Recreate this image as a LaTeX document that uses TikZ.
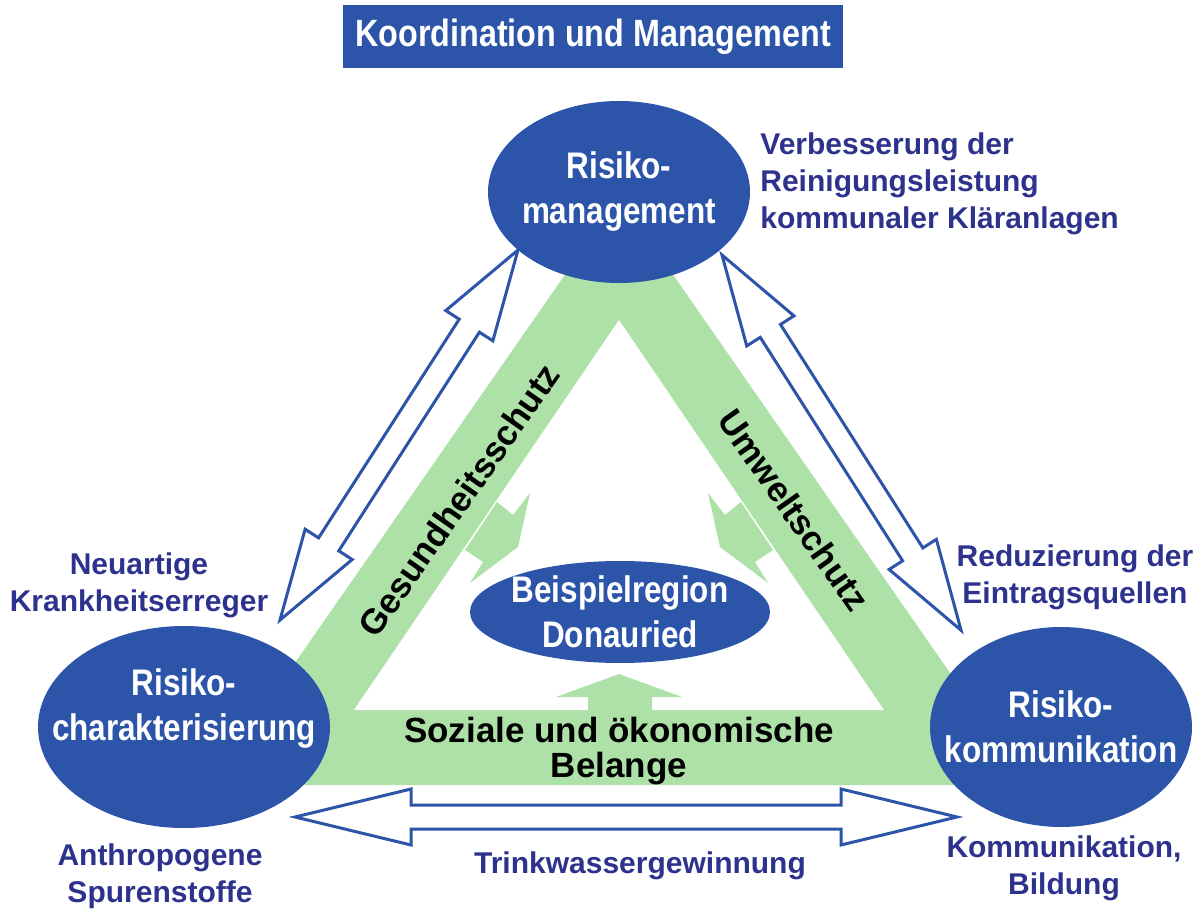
\documentclass[tikz,border=0pt]{standalone}
\usepackage{fontspec}
\setmainfont{Liberation Sans}
\newfontfamily\narrowfont{Liberation Sans}[FakeStretch=0.85]
\usepackage{xcolor}
\usepackage{tikz}
\usetikzlibrary{shapes,positioning,calc,arrows.meta}

\definecolor{riskblue}{RGB}{44,85,169}
\definecolor{labelblue}{RGB}{45,50,140}
\definecolor{bandgreen}{RGB}{174,225,168}

\tikzset{
    riskcircle/.style={ellipse, fill=riskblue, inner sep=0pt},
    riskcaption/.style={text=white, align=center, inner sep=0pt,
        font=\narrowfont\bfseries\fontsize{18.5}{22.5}\selectfont},
    topic/.style={text=labelblue, align=center, inner sep=0pt,
        font=\bfseries\fontsize{15}{18.5}\selectfont},
    bandlabel/.style={align=center, inner sep=0pt,
        font=\bfseries\fontsize{17.5}{17.5}\selectfont},
    hollow/.style={draw=riskblue, fill=white, line width=1.5pt, line join=miter},
    pics/twoway/.style n args={2}{code={
        \draw[hollow] (0,0) -- (#2,-28) -- (#2,-12) -- (#1-#2,-12) -- (#1-#2,-28)
            -- (#1,0) -- (#1-#2,28) -- (#1-#2,12) -- (#2,12) -- (#2,28) -- cycle;
    }}
}

\begin{document}
\begin{tikzpicture}[x=0.5pt, y=-0.5pt]
    \useasboundingbox (0,0) rectangle (1200,914);

    % green triangle with the three inward arrows
    \fill[bandgreen] (619,197) -- (1028,785) -- (210,785) -- cycle;
    \fill[white] (619,320) -- (884,710) -- (354,710) -- cycle;
    \fill[bandgreen] (497,502) -- (513,515) -- (530,493) -- (518,547)
        -- (470,583) -- (483,562) -- (465,550) -- cycle;
    \fill[bandgreen] (741,502) -- (725,515) -- (708,493) -- (720,547)
        -- (768,583) -- (755,562) -- (773,550) -- cycle;
    \fill[bandgreen] (588,711) -- (588,697) -- (556,697) -- (619,674)
        -- (682,697) -- (652,697) -- (652,711) -- cycle;

    % hollow double arrows
    \pic[rotate=-122.75] at (518,250) {twoway={440}{90}};
    \pic[rotate=-57.5] at (722,255) {twoway={445}{90}};
    \pic at (295,817) {twoway={662}{116}};

    \node[fill=riskblue, text=white, minimum width=250pt, minimum height=31.5pt, inner sep=0pt,
        font=\narrowfont\bfseries\fontsize{19}{22}\selectfont] (koord) at (593,36.5)
        {Koordination und Management};

    \node[riskcircle, minimum width=131pt, minimum height=91pt,
        label={[riskcaption]center:Risiko-\\management}] (mgmt) at (619,192) {};
    \node[riskcircle, minimum width=146pt, minimum height=101pt,
        label={[riskcaption, yshift=9pt]center:Risiko-\\charakterisierung}] (charak) at (184,727) {};
    \node[riskcircle, minimum width=131pt, minimum height=100pt,
        label={[riskcaption]center:Risiko-\\kommunikation}] (komm) at (1061,727) {};
    \node[riskcircle, minimum width=150pt, minimum height=51pt,
        label={[riskcaption]center:Beispielregion\\Donauried}] (region) at (620,612) {};

    \node[bandlabel, rotate=55] (gesund) at (459,500) {Gesundheitsschutz};
    \node[bandlabel, rotate=-55] (umwelt) at (794,510) {Umweltschutz};
    \node[bandlabel] (sozial) at (619,751) {Soziale und ökonomische\\Belange};

    \node[topic, align=left, anchor=west] (klaer) at (760,184)
        {Verbesserung der\\Reinigungsleistung\\kommunaler Kläranlagen};
    \node[topic] (erreger) at (139,585) {Neuartige\\Krankheitserreger};
    \node[topic] (eintrag) at (1075,577) {Reduzierung der\\Eintragsquellen};
    \node[topic] (spuren) at (160,876) {Anthropogene\\Spurenstoffe};
    \node[topic] (trink) at (640,866) {Trinkwassergewinnung};
    \node[topic] (bildung) at (1064,868) {Kommunikation,\\Bildung};
\end{tikzpicture}
\end{document}
